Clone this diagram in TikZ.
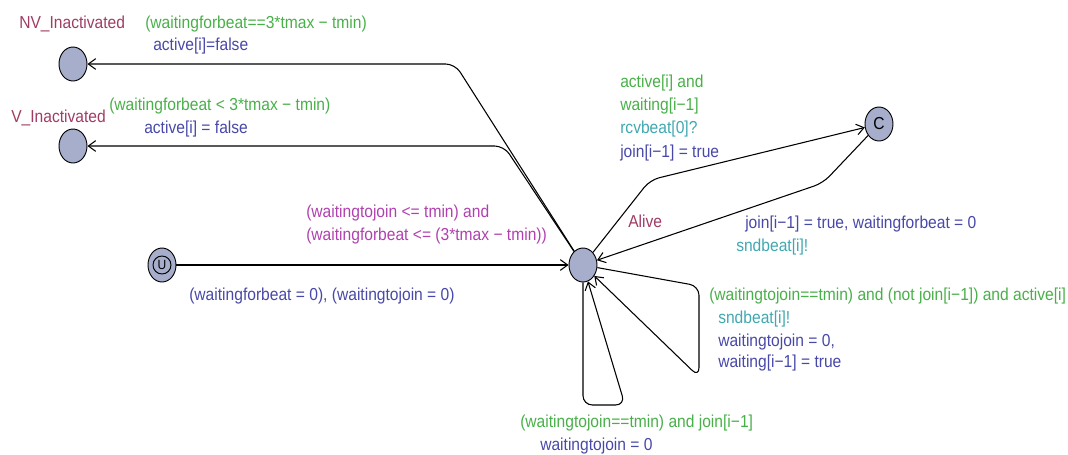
\documentclass[tikz,border=0pt]{standalone}
\usepackage{fontspec}
\setmainfont{Liberation Sans}[FakeStretch=0.9]
\usetikzlibrary{arrows.meta,shapes.geometric}
\definecolor{gcol}{RGB}{72,176,72}
\definecolor{bcol}{RGB}{72,72,168}
\definecolor{tcol}{RGB}{64,168,176}
\definecolor{mcol}{RGB}{160,60,100}
\definecolor{pcol}{RGB}{176,64,176}
\definecolor{locfill}{RGB}{166,174,204}
\begin{document}
\begin{tikzpicture}[x=0.75pt,y=-0.75pt,font=\fontsize{13}{17}\selectfont,
  loc/.style={ellipse,draw,fill=locfill,minimum width=21pt,minimum height=25.5pt,inner sep=0pt,line width=0.7pt},
  edge/.style={draw,line width=0.8pt,-{Straight Barb[length=5.5pt,width=8pt]},rounded corners=7pt},
  lbl/.style={anchor=base west,inner sep=0pt}]
\useasboundingbox (0,0) rectangle (1068,454);
% locations
\node[loc] (nv) at (73,64) {};
\node[loc] (v) at (73,146) {};
\node[loc] (init) at (162,265) {};
\node[circle,draw,line width=0.7pt,minimum size=13.5pt,inner sep=0pt,font=\fontsize{10}{10}\selectfont] (initin) at (162,265) {U};
\node[loc] (alive) at (583,265) {};
\node[loc] (c) at (879,124) {C};
% edges
\draw[edge] (alive) -- (455,64) -- (nv);
\draw[edge] (alive) -- (504,146) -- (v);
\draw[edge] (init) -- (alive);
\draw[edge] (alive) -- (650,180) -- (c);
\draw[edge] (c) -- (823,183) -- (alive);
\draw[edge] (alive) -- (699,286) -- (699,377) -- (alive);
\draw[edge] (alive) -- (583,405) -- (625,405) -- (alive);
% location names
\node[lbl,text=mcol] (nvname) at (19,28) {NV\_Inactivated};
\node[lbl,text=mcol] (vname) at (11,122) {V\_Inactivated};
\node[lbl,text=mcol] (alivename) at (628,227) {Alive};
% labels
\node[lbl,text=gcol] (l1) at (145,28) {(waitingforbeat==3*tmax − tmin)};
\node[lbl,text=bcol] (l2) at (153,50) {active[i]=false};
\node[lbl,text=gcol] (l3) at (109,110) {(waitingforbeat < 3*tmax − tmin)};
\node[lbl,text=bcol] (l4) at (144,133) {active[i] = false};
\node[lbl,text=gcol] (l5) at (620,87) {active[i] and};
\node[lbl,text=gcol] (l6) at (620,110) {waiting[i−1]};
\node[lbl,text=tcol] (l7) at (620,133) {rcvbeat[0]?};
\node[lbl,text=bcol] (l8) at (620,157) {join[i−1] = true};
\node[lbl,text=bcol] (l9) at (745,228) {join[i−1] = true, waitingforbeat = 0};
\node[lbl,text=tcol] (l10) at (736,251) {sndbeat[i]!};
\node[lbl,text=pcol] (l11) at (306,217) {(waitingtojoin <= tmin) and};
\node[lbl,text=pcol] (l12) at (306,240) {(waitingforbeat <= (3*tmax − tmin))};
\node[lbl,text=bcol] (l13) at (189,300) {(waitingforbeat = 0), (waitingtojoin = 0)};
\node[lbl,text=gcol] (l14) at (709,300) {(waitingtojoin==tmin) and (not join[i−1]) and active[i]};
\node[lbl,text=tcol] (l15) at (718,323) {sndbeat[i]!};
\node[lbl,text=bcol] (l16) at (718,346) {waitingtojoin = 0,};
\node[lbl,text=bcol] (l17) at (718,367) {waiting[i−1] = true};
\node[lbl,text=gcol] (l18) at (520,427) {(waitingtojoin==tmin) and join[i−1]};
\node[lbl,text=bcol] (l19) at (540,450) {waitingtojoin = 0};
\end{tikzpicture}
\end{document}
